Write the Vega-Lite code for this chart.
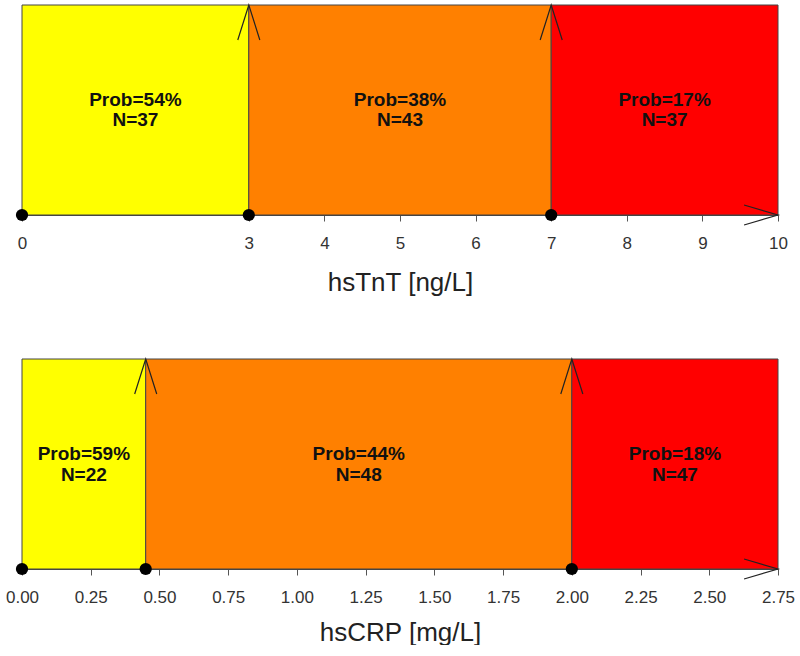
{
  "$schema": "https://vega.github.io/schema/vega-lite/v6.json",
  "padding": {"left": 5, "top": 2, "right": 0, "bottom": 0},
  "background": "white",
  "config": {
    "font": "Liberation Sans",
    "view": {"stroke": null},
    "axis": {
      "grid": false,
      "labelFlush": false,
      "labelOverlap": false,
      "labelBound": false,
      "labelFontSize": 17,
      "labelColor": "#333333",
      "labelPadding": 14,
      "tickColor": "#555555",
      "tickSize": 6,
      "domainColor": "#444444",
      "titleFontSize": 26,
      "titleFontWeight": "normal",
      "titleColor": "#222222"
    }
  },
  "datasets": {
    "tnt_bins": [
      {"lo": 0, "hi": 3, "mid": 1.5, "level": "low", "label": "Prob=54%\nN=37"},
      {"lo": 3, "hi": 7, "mid": 5, "level": "mid", "label": "Prob=38%\nN=43"},
      {"lo": 7, "hi": 10, "mid": 8.5, "level": "high", "label": "Prob=17%\nN=37"}
    ],
    "tnt_cuts": [{"x": 0}, {"x": 3}, {"x": 7}],
    "tnt_end": [{"x": 10}],
    "crp_bins": [
      {"lo": 0, "hi": 0.45, "mid": 0.225, "level": "low", "label": "Prob=59%\nN=22"},
      {"lo": 0.45, "hi": 2.0, "mid": 1.225, "level": "mid", "label": "Prob=44%\nN=48"},
      {"lo": 2.0, "hi": 2.75, "mid": 2.375, "level": "high", "label": "Prob=18%\nN=47"}
    ],
    "crp_cuts": [{"x": 0}, {"x": 0.45}, {"x": 2.0}],
    "crp_end": [{"x": 2.75}]
  },
  "vconcat": [
    {
      "width": 756,
      "height": 210,
      "layer": [
        {
          "data": {"name": "tnt_bins"},
          "mark": {"type": "rect", "stroke": "#444444", "strokeWidth": 1},
          "encoding": {
            "x": {"field": "lo", "type": "quantitative", "scale": {"domain": [0, 10], "nice": false, "zero": false},
              "axis": {"values": [0, 3, 4, 5, 6, 7, 8, 9, 10], "format": "d", "title": "hsTnT [ng/L]", "titlePadding": 18}},
            "x2": {"field": "hi"},
            "y": {"datum": 0, "type": "quantitative", "scale": {"domain": [0, 1], "nice": false}, "axis": null},
            "y2": {"datum": 1},
            "fill": {"field": "level", "type": "nominal", "scale": {"domain": ["low", "mid", "high"], "range": ["#FFFF00", "#FF8000", "#FF0000"]}, "legend": null}
          }
        },
        {
          "data": {"name": "tnt_bins"},
          "mark": {"type": "text", "fontWeight": "bold", "fontSize": 19, "lineBreak": "\n", "lineHeight": 20, "color": "#111111", "baseline": "middle", "dy": -10},
          "encoding": {
            "x": {"field": "mid", "type": "quantitative"},
            "y": {"datum": 0.5, "type": "quantitative"},
            "text": {"field": "label"}
          }
        },
        {
          "data": {"name": "tnt_cuts"},
          "transform": [{"filter": "datum.x > 0"}],
          "mark": {"type": "point", "shape": "M -0.63 2 L 0 0 L 0.63 2", "size": 1225, "filled": false, "stroke": "#222222", "strokeWidth": 1.2, "opacity": 1},
          "encoding": {
            "x": {"field": "x", "type": "quantitative"},
            "y": {"datum": 1, "type": "quantitative"}
          }
        },
        {
          "data": {"name": "tnt_end"},
          "mark": {"type": "point", "shape": "M -1.94 -0.57 L 0 0 L -1.94 0.57", "size": 1225, "filled": false, "stroke": "#222222", "strokeWidth": 1.2, "opacity": 1},
          "encoding": {
            "x": {"field": "x", "type": "quantitative"},
            "y": {"datum": 0, "type": "quantitative"}
          }
        },
        {
          "data": {"name": "tnt_cuts"},
          "mark": {"type": "circle", "size": 150, "color": "#000000", "opacity": 1},
          "encoding": {
            "x": {"field": "x", "type": "quantitative"},
            "y": {"datum": 0, "type": "quantitative"}
          }
        }
      ]
    },
    {
      "width": 756,
      "height": 210,
      "layer": [
        {
          "data": {"name": "crp_bins"},
          "mark": {"type": "rect", "stroke": "#444444", "strokeWidth": 1},
          "encoding": {
            "x": {"field": "lo", "type": "quantitative", "scale": {"domain": [0, 2.75], "nice": false, "zero": false},
              "axis": {"values": [0, 0.25, 0.5, 0.75, 1.0, 1.25, 1.5, 1.75, 2.0, 2.25, 2.5, 2.75], "format": ".2f", "title": "hsCRP [mg/L]", "titlePadding": 14}},
            "x2": {"field": "hi"},
            "y": {"datum": 0, "type": "quantitative", "scale": {"domain": [0, 1], "nice": false}, "axis": null},
            "y2": {"datum": 1},
            "fill": {"field": "level", "type": "nominal", "scale": {"domain": ["low", "mid", "high"], "range": ["#FFFF00", "#FF8000", "#FF0000"]}, "legend": null}
          }
        },
        {
          "data": {"name": "crp_bins"},
          "mark": {"type": "text", "fontWeight": "bold", "fontSize": 19, "lineBreak": "\n", "lineHeight": 21, "color": "#111111", "baseline": "middle", "dy": -10},
          "encoding": {
            "x": {"field": "mid", "type": "quantitative"},
            "y": {"datum": 0.5, "type": "quantitative"},
            "text": {"field": "label"}
          }
        },
        {
          "data": {"name": "crp_cuts"},
          "transform": [{"filter": "datum.x > 0"}],
          "mark": {"type": "point", "shape": "M -0.63 2 L 0 0 L 0.63 2", "size": 1225, "filled": false, "stroke": "#222222", "strokeWidth": 1.2, "opacity": 1},
          "encoding": {
            "x": {"field": "x", "type": "quantitative"},
            "y": {"datum": 1, "type": "quantitative"}
          }
        },
        {
          "data": {"name": "crp_end"},
          "mark": {"type": "point", "shape": "M -1.94 -0.57 L 0 0 L -1.94 0.57", "size": 1225, "filled": false, "stroke": "#222222", "strokeWidth": 1.2, "opacity": 1},
          "encoding": {
            "x": {"field": "x", "type": "quantitative"},
            "y": {"datum": 0, "type": "quantitative"}
          }
        },
        {
          "data": {"name": "crp_cuts"},
          "mark": {"type": "circle", "size": 150, "color": "#000000", "opacity": 1},
          "encoding": {
            "x": {"field": "x", "type": "quantitative"},
            "y": {"datum": 0, "type": "quantitative"}
          }
        }
      ]
    }
  ],
  "spacing": 144,
  "bounds": "flush"
}
